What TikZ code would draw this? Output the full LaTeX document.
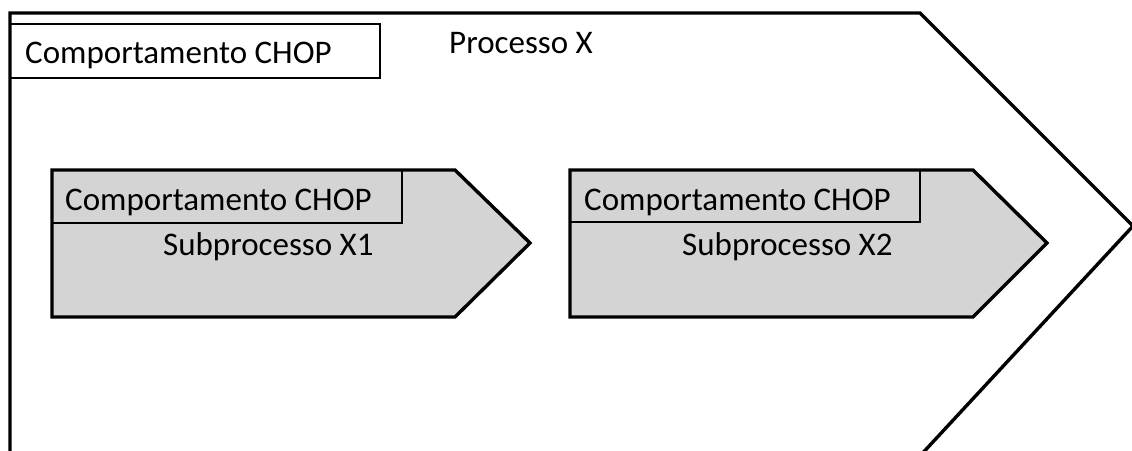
\documentclass[tikz,border=0pt]{standalone}
\usepackage{fontspec}
\setmainfont{Carlito}
\begin{document}
\begin{tikzpicture}[x=1pt,y=-1pt,
  outline/.style={draw=black,line width=3.4pt,line join=miter},
  subshape/.style={draw=black,line width=3.4pt,fill=black!17,line join=miter},
  tagbox/.style={draw=black,line width=1.4pt},
  lbl/.style={font=\fontsize{33}{36}\selectfont,anchor=base west,inner sep=0pt}]
\useasboundingbox (0,0) rectangle (1132,450);
\begin{scope}
\clip (0,0) rectangle (1132,450);
% main process chevron (runs past the lower edge)
\draw[outline] (10,480) -- (10,13) -- (920,13) -- (1133,226) -- (906,471);
\end{scope}
% header of the main process
\draw[tagbox] (10,24) rectangle (380,78);
\node[lbl] (hdr) at (25,63) {Comportamento CHOP};
\node[lbl] (proc) at (449,53) {Processo X};
% sub-process X1
\draw[subshape] (52,170) -- (455,170) -- (530,243) -- (455,317) -- (52,317) -- cycle;
\draw[tagbox] (52,170) rectangle (402,223);
\node[lbl] (h1) at (65,210) {Comportamento CHOP};
\node[lbl] (s1) at (163,255) {Subprocesso X1};
% sub-process X2
\draw[subshape] (570,170) -- (973,170) -- (1047,243) -- (973,317) -- (570,317) -- cycle;
\draw[tagbox] (570,170) rectangle (920,222);
\node[lbl] (h2) at (584,210) {Comportamento CHOP};
\node[lbl] (s2) at (682,255) {Subprocesso X2};
\end{tikzpicture}
\end{document}
